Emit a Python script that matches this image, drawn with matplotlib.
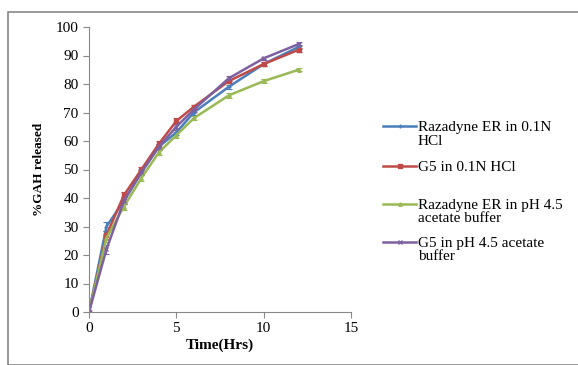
import numpy as np
import matplotlib
matplotlib.use('Agg')
import matplotlib.pyplot as plt
from matplotlib.lines import Line2D
from matplotlib.patches import Rectangle

plt.rcParams['font.family'] = ['Liberation Serif', 'DejaVu Serif']

time_hrs = [0, 1, 2, 3, 4, 5, 6, 8, 10, 12]
raz_hcl = [0, 30, 39, 49, 58, 63, 70, 79, 87, 93]
g5_hcl = [0, 27, 41, 50, 59, 67, 72, 81, 87, 92]
raz_acet = [0, 26, 37, 47, 56, 62, 68, 76, 81, 85]
g5_acet = [0, 22, 39, 49, 58, 65, 71, 82, 89, 94]
err = [0, 1.5, 1.2, 1, 1, 1, 0.8, 0.8, 0.6, 0.6]

labels = ['Razadyne ER in 0.1N\nHCl', 'G5 in 0.1N HCl',
          'Razadyne ER in pH 4.5\nacetate buffer', 'G5 in pH 4.5 acetate\nbuffer']
colors = ['#4a7ebb', '#be4b48', '#98b954', '#7d60a0']
markers = ['+', 's', '^', 'x']
series = [raz_hcl, g5_hcl, raz_acet, g5_acet]

fig = plt.figure(figsize=(5.78, 3.65), dpi=100)
fig.add_artist(Rectangle((8/578, 0), 1, 1 - 12/365, transform=fig.transFigure,
                         fill=False, edgecolor='#888888', linewidth=1.2))

ax = fig.add_axes([89/578, 53/365, 262/578, 285/365])
for y, c, m in zip(series, colors, markers):
    ax.errorbar(time_hrs, y, yerr=err, color=c, marker=m, markersize=2.5,
                linewidth=1.8, elinewidth=0.8, capsize=2.5, capthick=0.8)

ax.set_xlim(0, 15)
ax.set_ylim(0, 100)
ax.set_xticks([0, 5, 10, 15])
ax.set_yticks(range(0, 101, 10))
for s in ['top', 'right']:
    ax.spines[s].set_visible(False)
for s in ['left', 'bottom']:
    ax.spines[s].set_color('#888888')
ax.tick_params(direction='out', length=4, color='#888888', labelsize=11)
ax.set_xlabel('Time(Hrs)', fontweight='bold', fontsize=11, labelpad=2)
ax.set_ylabel('%GAH released', fontweight='bold', fontsize=9.5, labelpad=8)

# legend drawn by hand to keep Excel-like spacing
leg_y = [126, 166, 204, 242]
for yy, lab, c, m in zip(leg_y, labels, colors, markers):
    fy = 1 - yy / 365
    fig.add_artist(Line2D([383/578, 416/578], [fy, fy], color=c, linewidth=1.8,
                          transform=fig.transFigure))
    fig.add_artist(Line2D([400/578], [fy], color=c, marker=m, markersize=2.5,
                          transform=fig.transFigure))
    fig.text(418/578, fy + 5/365, lab, fontsize=11, va='top', ha='left',
             linespacing=1.05)

fig.savefig('out.png', dpi=100)
